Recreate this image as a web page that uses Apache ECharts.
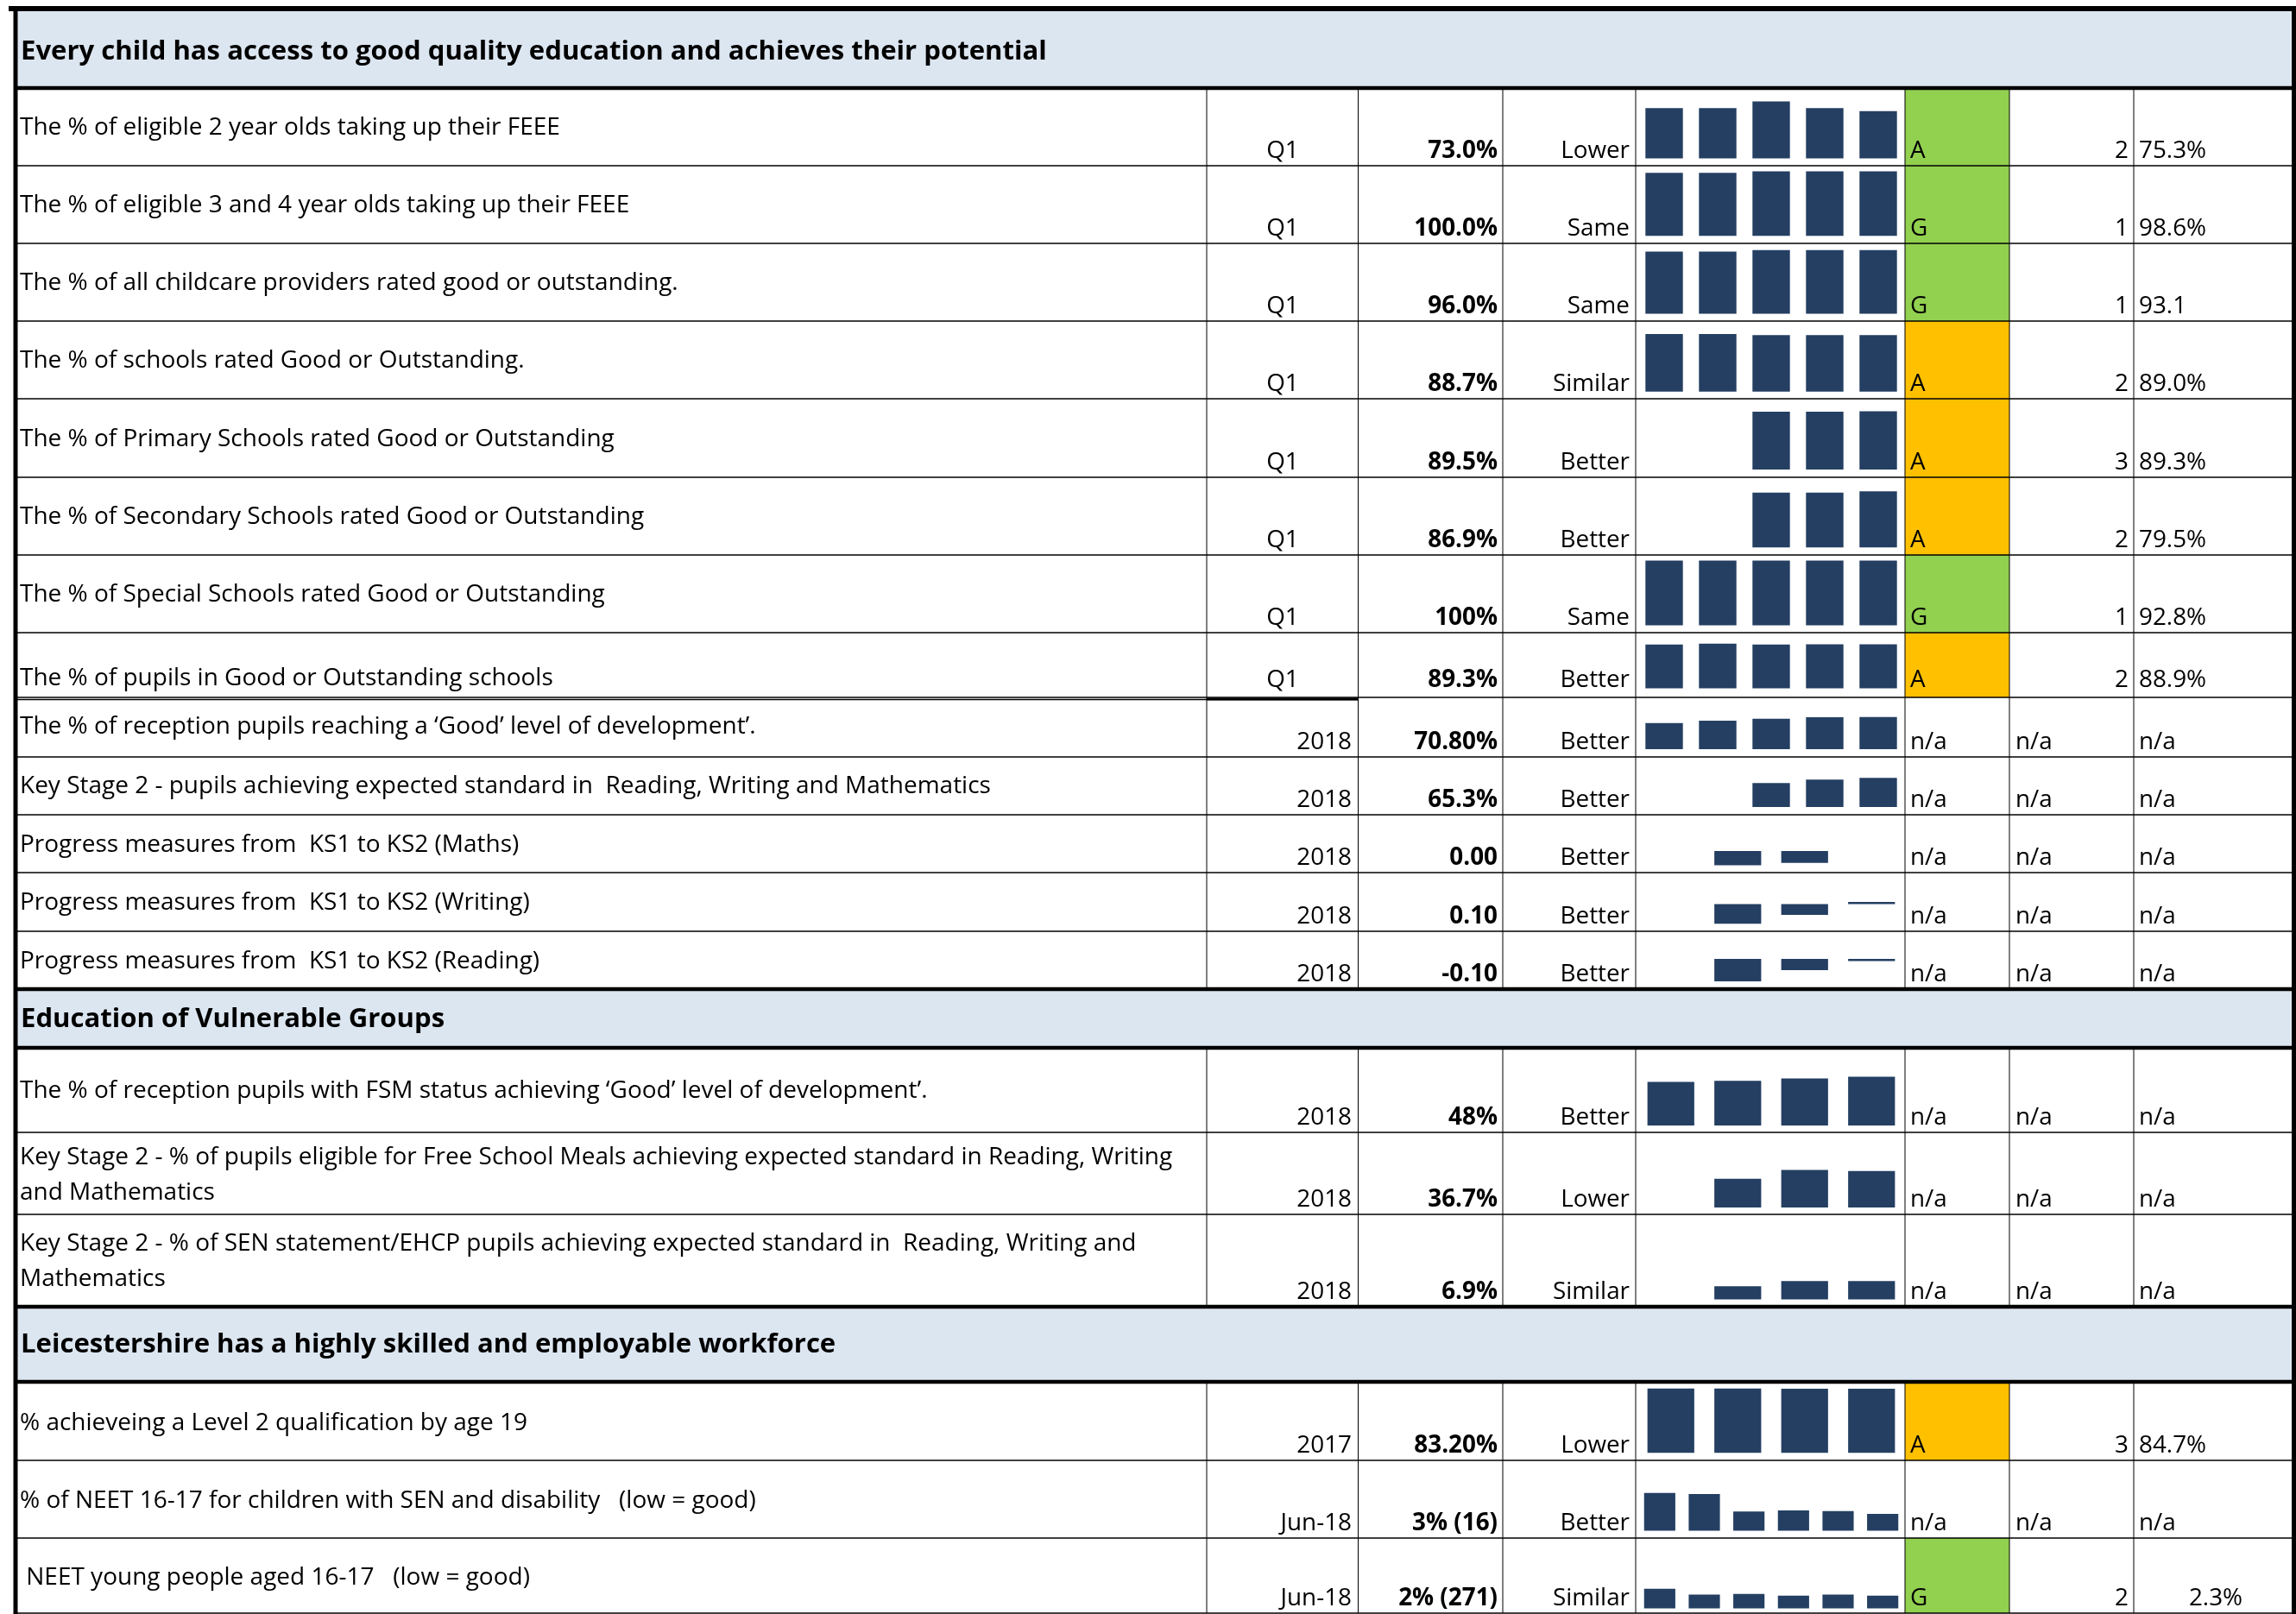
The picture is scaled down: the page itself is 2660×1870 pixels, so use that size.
<!DOCTYPE html>
<html>
<head>
<meta charset="utf-8">
<style>
  html, body { margin: 0; padding: 0; background: #fff; }
  #chart { width: 2660px; height: 1870px; }
</style>
<script src="https://cdn.jsdelivr.net/npm/echarts@6/dist/echarts.min.js"></script>
</head>
<body>
<div id="chart"></div>
<script>
// ---- table content ----
const sectionTitles = [
  'Every child has access to good quality education and achieves their potential',
  'Education of Vulnerable Groups',
  'Leicestershire has a highly skilled and employable workforce'
];
const indicators = [
  ['The % of eligible 2 year olds taking up their FEEE'],
  ['The % of eligible 3 and 4 year olds taking up their FEEE'],
  ['The % of all childcare providers rated good or outstanding.'],
  ['The % of schools rated Good or Outstanding.'],
  ['The % of Primary Schools rated Good or Outstanding'],
  ['The % of Secondary Schools rated Good or Outstanding'],
  ['The % of Special Schools rated Good or Outstanding'],
  ['The % of pupils in Good or Outstanding schools'],
  ['The % of reception pupils reaching a \u2018Good\u2019 level of development\u2019.'],
  ['Key Stage 2 - pupils achieving expected standard in  Reading, Writing and Mathematics'],
  ['Progress measures from  KS1 to KS2 (Maths)'],
  ['Progress measures from  KS1 to KS2 (Writing)'],
  ['Progress measures from  KS1 to KS2 (Reading)'],
  ['The % of reception pupils with FSM status achieving \u2018Good\u2019 level of development\u2019.'],
  ['Key Stage 2 - % of pupils eligible for Free School Meals achieving expected standard in Reading, Writing', 'and Mathematics'],
  ['Key Stage 2 - % of SEN statement/EHCP pupils achieving expected standard in  Reading, Writing and', 'Mathematics'],
  ['% achieveing a Level 2 qualification by age 19'],
  ['% of NEET 16-17 for children with SEN and disability   (low = good)'],
  [' NEET young people aged 16-17   (low = good)']
];
const periods = ['Q1', 'Q1', 'Q1', 'Q1', 'Q1', 'Q1', 'Q1', 'Q1', '2018', '2018', '2018', '2018', '2018',
  '2018', '2018', '2018', '2017', 'Jun-18', 'Jun-18'];
const latest = ['73.0%', '100.0%', '96.0%', '88.7%', '89.5%', '86.9%', '100%', '89.3%', '70.80%', '65.3%',
  '0.00', '0.10', '-0.10', '48%', '36.7%', '6.9%', '83.20%', '3% (16)', '2% (271)'];
const trends = ['Lower', 'Same', 'Same', 'Similar', 'Better', 'Better', 'Same', 'Better', 'Better', 'Better',
  'Better', 'Better', 'Better', 'Better', 'Lower', 'Similar', 'Lower', 'Better', 'Similar'];
const rag = ['A', 'G', 'G', 'A', 'A', 'A', 'G', 'A', 'n/a', 'n/a', 'n/a', 'n/a', 'n/a', 'n/a', 'n/a', 'n/a',
  'A', 'n/a', 'G'];
const ragColour = ['green', 'green', 'green', 'amber', 'amber', 'amber', 'green', 'amber', null, null, null,
  null, null, null, null, null, 'amber', null, 'green'];
const ranks = ['2', '1', '1', '2', '3', '2', '1', '2', 'n/a', 'n/a', 'n/a', 'n/a', 'n/a', 'n/a', 'n/a', 'n/a',
  '3', 'n/a', '2'];
const comparators = ['75.3%', '98.6%', '93.1', '89.0%', '89.3%', '79.5%', '92.8%', '88.9%', 'n/a', 'n/a',
  'n/a', 'n/a', 'n/a', 'n/a', 'n/a', 'n/a', '84.7%', 'n/a', '2.3%'];

// sparkline values
const sparkValues = [
  [77.5, 77.5, 88, 77.5, 73.0],
  [97.7, 97.7, 100, 100, 100],
  [93.6, 93.6, 96, 96, 96],
  [90.4, 90.4, 88.7, 88.7, 88.7],
  [null, null, 88.9, 88.9, 89.5],
  [null, null, 85, 85, 86.9],
  [100, 100, 100, 100, 100],
  [89.2, 91.0, 89.2, 89.3, 89.3],
  [57.7, 62.9, 67.2, 70.5, 70.8],
  [null, null, 53.8, 61.6, 65.3],
  [null, -0.6, -0.5, 0.0],
  [null, -0.9, -0.5, 0.1],
  [null, -1.0, -0.5, -0.1],
  [43, 44, 46.3, 48],
  [null, 28.9, 37.8, 36.7],
  [null, 5.0, 6.9, 6.9],
  [83.4, 83.4, 83.3, 83.2],
  [6.7, 6.5, 3.4, 3.6, 3.5, 3.0],
  [3.1, 2.2, 2.3, 2.0, 2.2, 2.0]
];
const sparkMin = [0, 0, 0, 0, 0, 0, 0, 0, 0, 0, -0.6, -0.9, -1.0, 0, 0, 0, 0, 0, 0];
const sparkMax = [100, 100, 97.5, 102, 100, 100, 100, 100, 100, 100, 1.29, 1.19, 0.98, 71, 70, 29.6, 86, 11.5, 10.3];

// ---- layout (px) ----
const rowTop = [102, 192, 282, 372, 462, 553, 643, 733, 808, 877, 944, 1011, 1079, 1214, 1312, 1407, 1601, 1692, 1782];
const rowBottom = [192, 282, 372, 462, 553, 643, 733, 808, 877, 944, 1011, 1079, 1146, 1312, 1407, 1514, 1692, 1782, 1869];
const labelMid = [[148], [238], [328], [418], [509], [599], [689], [786], [842], [911], [979], [1046], [1114],
  [1264], [1341, 1382], [1441, 1482], [1649], [1739], [1828]];
const sparkBox = [[108.5, 183.4], [198.5, 273.2], [288.5, 363.6], [378.5, 453.8], [468.5, 544], [559.5, 634.2],
  [649.5, 724.6], [740.5, 797.5], [815.5, 868], [883.5, 935], [950.5, 1002.6], [1017.5, 1070.2], [1085.5, 1137],
  [1220.5, 1304], [1318.5, 1399], [1414.5, 1505.5], [1606.5, 1683.3], [1698.5, 1773.5], [1788.5, 1863.4]];
const sections = [[10, 102, 60], [1146, 1214, 1181], [1514, 1601, 1558]]; // top, bottom, text middle
const sectionRows = [[0, 12], [13, 15], [16, 18]];
const colLines = [1398, 1573.5, 1741, 1895, 2207, 2328, 2472];

const FONT = '"Open Sans", "Liberation Sans", sans-serif';
const BAR = '#243f62';
const FILLS = { green: '#92d050', amber: '#ffc000' };

const measure = document.createElement('canvas').getContext('2d');
function fitSize(str, width, weight) {
  measure.font = weight + ' 100px ' + FONT;
  return 100 * width / measure.measureText(str).width;
}
const labelSize = fitSize(indicators[0][0], 626, 'normal');
const headSize = fitSize(sectionTitles[0], 1189, 'bold');
const valSize = fitSize('Similar', 89, 'normal');

const elements = [];
function line(x1, y1, x2, y2, w) {
  elements.push({ type: 'line', z: 20, silent: true, shape: { x1, y1, x2, y2 }, style: { stroke: '#000', lineWidth: w } });
}
function rect(x, y, w, h, fill) {
  elements.push({ type: 'rect', z: 0, silent: true, shape: { x, y, width: w, height: h }, style: { fill } });
}
function text(str, x, y, size, weight, align) {
  elements.push({
    type: 'text', z: 30, silent: true,
    style: {
      text: str, x, y, fill: '#000', font: weight + ' ' + size.toFixed(2) + 'px ' + FONT,
      align, textAlign: align, verticalAlign: 'middle', textVerticalAlign: 'middle'
    }
  });
}

// section headers
sections.forEach((s, i) => {
  rect(20, s[0], 2636, s[1] - s[0], '#dce6f1');
  text(sectionTitles[i], 24, s[2], headSize, 'bold', 'left');
});

// RAG fills
ragColour.forEach((c, i) => {
  if (c) rect(2207, rowTop[i], 121, rowBottom[i] - rowTop[i], FILLS[c]);
});

// rows text
indicators.forEach((lines, i) => {
  lines.forEach((ln, k) => text(ln, 23, labelMid[i][k], labelSize, 'normal', 'left'));
  const vy = i === 7 ? 788 : rowBottom[i] - 17;
  if (periods[i] === 'Q1') text(periods[i], 1486, vy, valSize, 'normal', 'center');
  else text(periods[i], 1566, vy, valSize, 'normal', 'right');
  text(latest[i], 1735, vy, valSize, 'bold', 'right');
  text(trends[i], 1888, vy, valSize, 'normal', 'right');
  text(rag[i], 2213, vy, valSize, 'normal', 'left');
  if (ranks[i] === 'n/a') text(ranks[i], 2335, vy, valSize, 'normal', 'left');
  else text(ranks[i], 2466, vy, valSize, 'normal', 'right');
  if (i === 18) text(comparators[i], 2567, vy, valSize, 'normal', 'center');
  else text(comparators[i], 2478, vy, valSize, 'normal', 'left');
});

// row lines
rowBottom.forEach((y, i) => {
  const isSectionEnd = sectionRows.some(r => r[1] === i) && i !== 18;
  if (!isSectionEnd) line(18, y, 2657, y, 1.5);
});
// odd double border under the Q1 block
line(18, 810.5, 1573.5, 810.5, 1.5);
line(1398, 810, 1573.5, 810, 3);

// column lines per section
sectionRows.forEach(r => {
  colLines.forEach(x => line(x, rowTop[r[0]], x, rowBottom[r[1]], 1));
});

// thick section borders and frame
sections.forEach(s => {
  line(16, s[0], 2660, s[0], 4.5);
  line(16, s[1], 2660, s[1], 4.5);
});
line(10, 10, 2660, 10, 6);
line(18, 7, 18, 1870, 5);
line(2657.5, 7, 2657.5, 1870, 5);

// sparkline grids
const grids = [], xAxes = [], yAxes = [], series = [];
sparkValues.forEach((vals, i) => {
  grids.push({ left: 1897, width: 310, top: sparkBox[i][0], height: sparkBox[i][1] - sparkBox[i][0] });
  xAxes.push({ type: 'category', gridIndex: i, show: false, data: vals.map((_, k) => 'p' + (k + 1)) });
  yAxes.push({ type: 'value', gridIndex: i, show: false, min: sparkMin[i], max: sparkMax[i] });
  series.push({
    type: 'bar', xAxisIndex: i, yAxisIndex: i, data: vals, barCategoryGap: '30%',
    itemStyle: { color: BAR }, silent: true, z: 5
  });
});

const chart = echarts.init(document.getElementById('chart'), null, { renderer: 'canvas' });
chart.setOption({
  animation: false,
  backgroundColor: '#fff',
  grid: grids,
  xAxis: xAxes,
  yAxis: yAxes,
  series: series,
  graphic: { elements: elements }
});
window.addEventListener('resize', () => chart.resize());
</script>
</body>
</html>
